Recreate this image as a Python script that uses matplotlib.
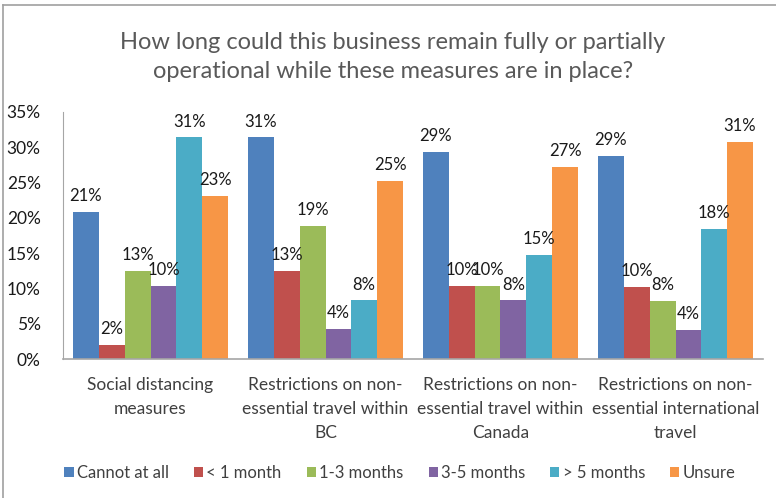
import numpy as np
import matplotlib.pyplot as plt
from matplotlib.lines import Line2D

plt.rcParams['font.family'] = ['Lato', 'DejaVu Sans']

## the data
categories = ['Social distancing\nmeasures',
              'Restrictions on non-\nessential travel within\nBC',
              'Restrictions on non-\nessential travel within\nCanada',
              'Restrictions on non-\nessential international\ntravel']
series = ['Cannot at all', '< 1 month', '1-3 months', '3-5 months', '> 5 months', 'Unsure']
cannot = [20.9, 31.4, 29.4, 28.8]
lt1 = [2.0, 12.5, 10.4, 10.2]
m1_3 = [12.5, 18.9, 10.4, 8.2]
m3_5 = [10.4, 4.3, 8.3, 4.1]
gt5 = [31.4, 8.3, 14.7, 18.4]
unsure = [23.1, 25.2, 27.2, 30.8]
yticks = [0, 5, 10, 15, 20, 25, 30, 35]

colors = ['#4F81BD', '#C0504D', '#9BBB59', '#8064A2', '#4BACC6', '#F79646']
values = [cannot, lt1, m1_3, m3_5, gt5, unsure]

fig = plt.figure(figsize=(7.76, 4.98), dpi=100)
ax = fig.add_axes([63/776, 1-359/498, 700/776, (359-112)/498])

ind = np.arange(len(categories))
width = 0.1476
for i, (vals, c, name) in enumerate(zip(values, colors, series)):
    x = ind + (i - 2.5) * width
    bars = ax.bar(x, vals, width, color=c, label=name)
    for xx, v in zip(x, vals):
        ax.text(xx, v + 1.1, '%d%%' % round(v + 1e-9), ha='center', va='bottom',
                fontsize=12, color='#1a1a1a')

ax.set_xlim(-0.5, 3.5)
ax.set_ylim(0, 35)
ax.set_yticks(yticks)
ax.set_yticklabels(['%d%%' % t for t in yticks], fontsize=12.5, color='#1a1a1a')
ax.set_xticks(ind)
ax.set_xticklabels(categories, fontsize=12.5, color='#404040', linespacing=1.6)
ax.tick_params(axis='x', length=0, pad=13)
ax.tick_params(axis='y', length=0, pad=16)
for s in ['top', 'right']:
    ax.spines[s].set_visible(False)
ax.spines['left'].set_color('#A6A6A6')
ax.spines['bottom'].set_color('#A6A6A6')
ax.spines['bottom'].set_linewidth(1.2)

fig.text(393/776, 1-57/498, 'How long could this business remain fully or partially\noperational while these measures are in place?',
         ha='center', va='center', fontsize=17, color='#595959', linespacing=1.45)

fig.legend(loc='center', bbox_to_anchor=(400/776, 1-473/498), ncol=6, frameon=False,
           fontsize=12, handlelength=0.55, handleheight=0.55, handletextpad=0.2,
           columnspacing=1.5, labelcolor='#404040')

# chart border (top and left)
fig.add_artist(Line2D([3/776, 1], [1-5/498, 1-5/498], color='#A0A0A0', lw=1.2))
fig.add_artist(Line2D([3/776, 3/776], [0, 1-5/498], color='#A0A0A0', lw=1.2))

fig.savefig('out.png', dpi=100)
